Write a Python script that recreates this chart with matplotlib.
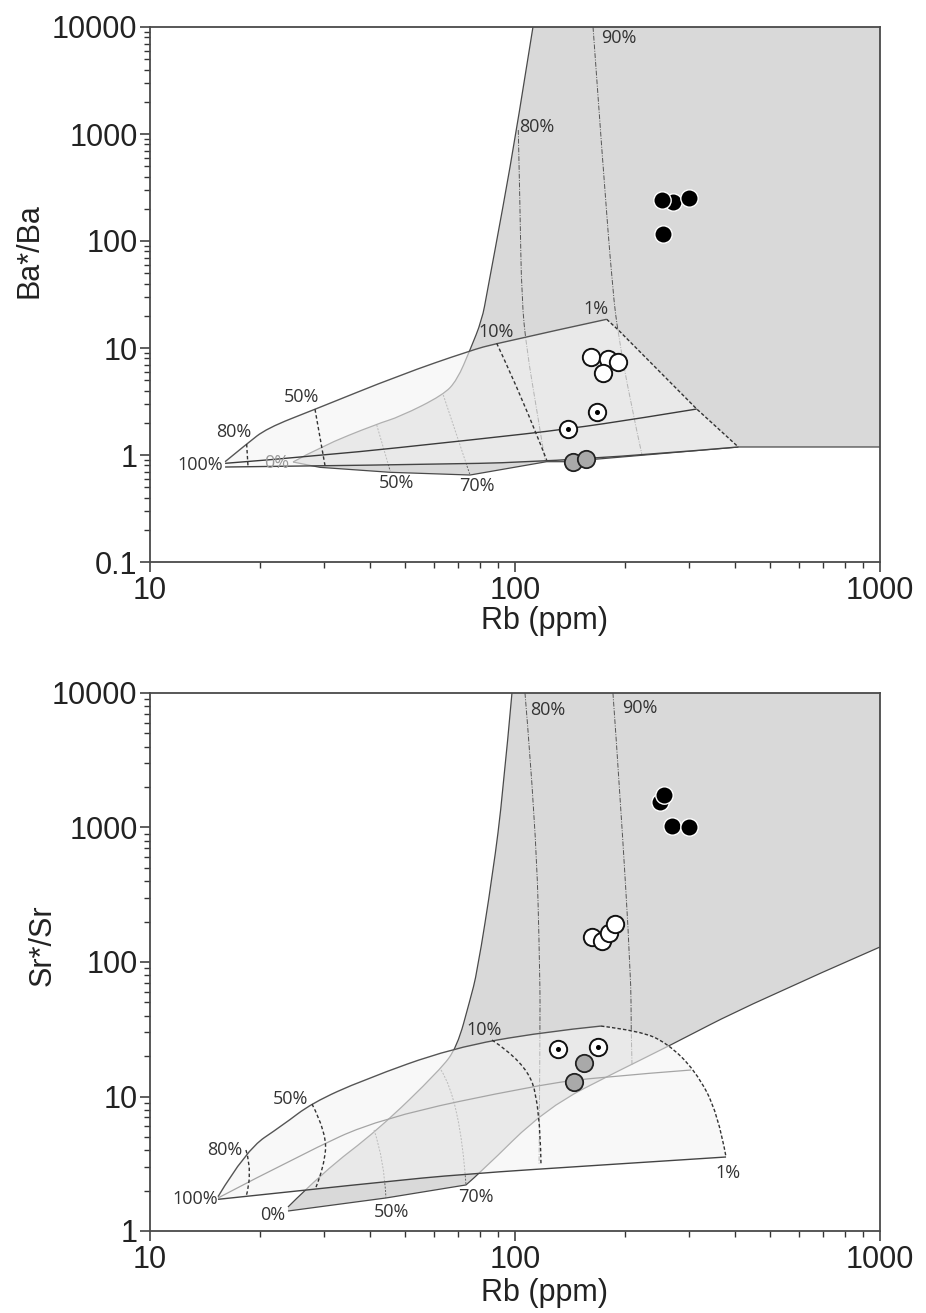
"""
Rb vs Ba*/Ba and Sr*/Sr fractionation model diagrams (two stacked log-log panels).
"""
import numpy as np
import matplotlib
matplotlib.use("Agg")
import matplotlib.pyplot as plt
from matplotlib.path import Path
from matplotlib.patches import PathPatch
from matplotlib.ticker import FixedLocator, FixedFormatter, LogLocator, NullFormatter

DARK_FILL = "#d9d9d9"
CONE_FILL = "#f4f4f4"
EDGE = "#4a4a4a"
INK = "#333333"
TICK_FONT = "Liberation Sans"
NOTE_FONT = "Open Sans"

# ---------------- Ba*/Ba panel (top) ----------------
BA_CONE_UPPER_RB = [16.06, 18.40, 20.88, 28.32, 48.4, 75.3, 89.1, 178.3]
BA_CONE_UPPER = [0.866, 1.267, 1.776, 2.674, 5.59, 9.44, 11.07, 18.55]
BA_CONE_1PCT_RB = [178.3, 191.9, 314.7, 409.1]
BA_CONE_1PCT = [18.55, 14.73, 2.69, 1.188]
BA_CONE_LOWER_RB = [409.1, 138.8, 45.5, 16.06]
BA_CONE_LOWER = [1.188, 0.866, 0.806, 0.772]
BA_MIDDLE_RB = [16.06, 29.2, 80.2, 139.7, 220.0, 314.7]
BA_MIDDLE = [0.836, 0.979, 1.411, 1.750, 2.203, 2.69]

BA_FIELD_LEFT_RB = [24.65, 29.2, 41.8, 48.4, 63.6, 69.4, 75.3, 81.2, 83.8, 92.7, 101.3, 112.0]
BA_FIELD_LEFT = [0.860, 1.188, 1.949, 2.280, 3.64, 5.02, 9.58, 18.27, 32.7, 207.9, 1163, 10000]
BA_FIELD_BASE_RB = [1000, 409.1, 138.8, 122.1, 75.3, 45.5, 29.2, 24.65]
BA_FIELD_BASE = [1.188, 1.188, 0.866, 0.866, 0.650, 0.689, 0.767, 0.860]

BA_TICKS = [  # dashed fraction ticks of the cone
    ([18.40, 18.56], [1.267, 0.772]),
    ([28.32, 29.2, 30.2], [2.674, 1.483, 0.777]),
    ([89.1, 105.4, 122.1], [11.07, 3.27, 0.898]),
]
BA_ZERO_TICKS = [
    ([41.8, 45.5], [1.907, 0.709]),
    ([63.6, 75.3], [3.64, 0.650]),
]
BA_FIELD_LINES = [
    ([102.1, 103.2, 104.3, 107.7, 114.7, 120.8], [1090, 209.2, 28.1, 9.58, 2.634, 0.898]),
    ([163.6, 174.2, 185.5, 191.5, 206.6, 222.8], [10000, 491.6, 32.7, 13.81, 3.27, 1.0]),
]
BA_LABELS = [("100%", 13.71, 0.806), ("80%", 16.91, 1.651), ("50%", 26.04, 3.51),
             ("0%", 22.24, 0.836), ("50%", 47.4, 0.551), ("70%", 78.6, 0.513),
             ("10%", 88.7, 14.2), ("1%", 166.4, 23.0), ("80%", 114.7, 1170),
             ("90%", 191.9, 7840)]

BA_BLACK_RB = [271, 252, 300, 255]
BA_BLACK = [231, 240, 250, 117]
BA_WHITE_RB = [162, 180, 191, 174]
BA_WHITE = [8.3, 7.9, 7.45, 5.9]
BA_DOT_RB = [140, 167.5]
BA_DOT = [1.75, 2.5]
BA_GRAY_RB = [144, 156.5]
BA_GRAY = [0.855, 0.92]

# ---------------- Sr*/Sr panel (bottom) ----------------
SR_CONE_UPPER_RB = [15.36, 18.32, 23.14, 27.78, 38.33, 67.2, 119.3, 172.0]
SR_CONE_UPPER = [1.80, 4.00, 6.14, 8.95, 13.27, 22.94, 30.2, 33.4]
SR_CONE_ARC_RB = [172.0, 220, 260.9, 311.2, 359.9, 378.6]
SR_CONE_ARC = [33.4, 30.7, 25.0, 15.74, 7.54, 3.55]
SR_CONE_LOWER_RB = [378.6, 171.0, 72.5, 42.7, 15.36]
SR_CONE_LOWER = [3.55, 3.09, 2.65, 2.31, 1.72]
SR_MIDDLE_RB = [15.36, 25.76, 42.7, 115.6, 171.0, 303.6]
SR_MIDDLE = [1.76, 3.67, 6.92, 12.18, 13.96, 15.74]

SR_FIELD_LEFT_RB = [23.88, 29.79, 42.15, 62.3, 69.4, 75.3, 78.7, 87.0, 92.7, 98.1]
SR_FIELD_LEFT = [1.508, 2.746, 5.64, 15.74, 23.34, 52.2, 82.8, 459, 1805, 10000]
SR_FIELD_BASE_RB = [1000, 446, 260.9, 194.0, 121.6, 80.2, 73.4, 44.3, 23.88]
SR_FIELD_BASE = [129.3, 49.6, 23.34, 15.74, 8.21, 2.70, 2.20, 1.76, 1.408]

SR_TICKS = [
    ([18.32, 19.15, 18.32], [4.00, 2.70, 1.789]),
    ([27.78, 30.54, 29.97, 28.50], [8.80, 5.35, 2.99, 2.12]),
    ([86.5, 106.5, 117.1, 117.8], [26.3, 18.05, 8.65, 3.15]),
]
SR_ZERO_TICKS = [
    ([41.1, 43.8, 44.3], [5.64, 3.37, 1.76]),
    ([62.7, 70.7, 73.4], [15.74, 9.42, 2.20]),
]
SR_FIELD_LINES = [
    ([106.5, 114.2, 117.1, 117.1, 116.4], [10000, 1009, 77.3, 31.2, 3.15]),
    ([185.5, 194.0, 207.9, 207.9, 209.2], [10000, 1805, 77.3, 32.9, 17.15]),
]
SR_LABELS = [("100%", 13.28, 1.73), ("80%", 16.06, 4.00), ("50%", 24.19, 9.58),
             ("0%", 21.73, 1.315), ("50%", 46.0, 1.384), ("70%", 78.2, 1.789),
             ("10%", 82.2, 31.2), ("1%", 383.4, 2.70), ("80%", 123.1, 7473),
             ("90%", 220, 7727)]

SR_BLACK_RB = [250, 256, 269, 300]
SR_BLACK = [1547, 1744, 1026, 1009]
SR_WHITE_RB = [163, 173, 181, 188]
SR_WHITE = [154, 143, 165, 191]
SR_DOT_RB = [131.4, 169.1]
SR_DOT = [22.6, 23.5]
SR_GRAY_RB = [154.9, 145.1]
SR_GRAY = [17.7, 12.8]

X_TICKS = [10, 100, 1000]
BA_Y_TICKS = [0.1, 1, 10, 100, 1000, 10000]
SR_Y_TICKS = [1, 10, 100, 1000, 10000]


def build_path(pieces, close=False):
    """pieces: list of (xs, ys, smooth). Smooth pieces become quadratic
    bezier runs (control points = read points, knots at log-midpoints)."""
    verts, codes = [], []
    for xs, ys, smooth in pieces:
        pts = list(zip(xs, ys))
        verts.append(pts[0])
        codes.append(Path.MOVETO if not codes else Path.LINETO)
        n = len(pts)
        if not smooth or n < 3:
            for p in pts[1:]:
                verts.append(p)
                codes.append(Path.LINETO)
            continue
        for i in range(1, n - 2):
            mid = (np.sqrt(pts[i][0] * pts[i + 1][0]), np.sqrt(pts[i][1] * pts[i + 1][1]))
            verts += [pts[i], mid]
            codes += [Path.CURVE3, Path.CURVE3]
        verts += [pts[n - 2], pts[n - 1]]
        codes += [Path.CURVE3, Path.CURVE3]
    if close:
        verts.append(verts[0])
        codes.append(Path.CLOSEPOLY)
    return Path(verts, codes)


def stroke(ax, pieces, z, **kw):
    ax.add_patch(PathPatch(build_path(pieces), fill=False, zorder=z, **kw))


def style_axes(ax, yticks, ylabel, ylim, ylab_xy, xlab_xy):
    ax.set_xscale("log")
    ax.set_yscale("log")
    ax.set_xlim(10, 1000)
    ax.set_ylim(*ylim)
    for sp in ax.spines.values():
        sp.set_color(EDGE)
        sp.set_linewidth(1.3)
    ax.xaxis.set_major_locator(FixedLocator(X_TICKS))
    ax.xaxis.set_major_formatter(FixedFormatter([str(t) for t in X_TICKS]))
    ax.yaxis.set_major_locator(FixedLocator(yticks))
    ax.yaxis.set_major_formatter(FixedFormatter([("%g" % t) for t in yticks]))
    for axis in (ax.xaxis, ax.yaxis):
        axis.set_minor_locator(LogLocator(base=10, subs=range(2, 10), numticks=20))
        axis.set_minor_formatter(NullFormatter())
    ax.tick_params(which="major", direction="out", length=7, width=1.1, color=INK,
                   labelsize=22, labelcolor="#222222", pad=2)
    ax.tick_params(which="minor", direction="out", length=4, width=1.0, color=INK)
    ax.tick_params(axis="x", which="major", pad=3)
    for lab in ax.get_xticklabels() + ax.get_yticklabels():
        lab.set_family(TICK_FONT)
    ax.set_xlabel("Rb (ppm)", fontsize=22, family=TICK_FONT, color="#222222")
    ax.set_ylabel(ylabel, fontsize=22, family=TICK_FONT, color="#222222")
    ax.xaxis.set_label_coords(*xlab_xy)
    ax.yaxis.set_label_coords(*ylab_xy)


def draw_model(ax, left, base, base_smooth_n, upper, right, right_smooth, lower,
               middle, middle_above, ticks, zero_ticks, field_lines, labels, zero_gray):
    # gray field
    base_pieces = []
    if base_smooth_n:
        base_pieces.append((base[0][:base_smooth_n], base[1][:base_smooth_n], True))
        base_pieces.append((base[0][base_smooth_n - 1:], base[1][base_smooth_n - 1:], False))
    else:
        base_pieces.append((base[0], base[1], False))
    field = [(left[0], left[1], True), ([1000], [10000], False)] + base_pieces
    ax.add_patch(PathPatch(build_path(field, close=True), facecolor=DARK_FILL,
                           edgecolor="none", zorder=1))
    stroke(ax, [(left[0], left[1], True)], 2, edgecolor=EDGE, lw=0.9)
    stroke(ax, base_pieces, 2, edgecolor=EDGE, lw=0.9)
    for xs, ys in field_lines:
        stroke(ax, [(xs, ys, True)], 2, edgecolor="#555555", lw=0.7,
               linestyle=(0, (5, 1.5, 1, 1.5)))
    for xs, ys in zero_ticks:
        stroke(ax, [(xs, ys, True)], 2, edgecolor="#666666", lw=0.7,
               linestyle=(0, (2, 1.5)))

    # translucent cone
    cone = [(upper[0], upper[1], True), (right[0], right[1], right_smooth),
            (lower[0], lower[1], True)]
    ax.add_patch(PathPatch(build_path(cone, close=True), facecolor=CONE_FILL,
                           edgecolor="none", alpha=0.6, zorder=3))
    if not middle_above:
        stroke(ax, [(middle[0], middle[1], True)], 3.5, edgecolor="#a5a5a5", lw=0.9)
    stroke(ax, [(upper[0], upper[1], True)], 4, edgecolor="#555555", lw=1.0)
    stroke(ax, [(right[0], right[1], right_smooth)], 4, edgecolor="#333333", lw=1.0,
           linestyle=(0, (2.5, 1.5)))
    stroke(ax, [(lower[0], lower[1], True)], 4, edgecolor="#444444", lw=1.0)
    if middle_above:
        stroke(ax, [(middle[0], middle[1], True)], 4, edgecolor="#3a3a3a", lw=1.0)
    for xs, ys in ticks:
        stroke(ax, [(xs, ys, True)], 4, edgecolor="#333333", lw=1.0,
               linestyle=(0, (2.5, 1.8)))

    for s, x, y in labels:
        col = "#9a9a9a" if (zero_gray and s == "0%") else INK
        ax.text(x, y, s, fontsize=13, family=NOTE_FONT, color=col,
                ha="center", va="center", zorder=5)


def draw_points(ax, black, white, dot, gray):
    ax.plot(black[0], black[1], "o", ms=12.5, mfc="black", mec="white", mew=1.0,
            ls="none", zorder=6)
    ax.plot(white[0], white[1], "o", ms=12.5, mfc="white", mec="#111111", mew=1.4,
            ls="none", zorder=6)
    ax.plot(gray[0], gray[1], "o", ms=12.5, mfc="#a9a9a9", mec="#222222", mew=1.3,
            ls="none", zorder=6)
    ax.plot(dot[0], dot[1], "o", ms=12.5, mfc="white", mec="#111111", mew=1.4,
            ls="none", zorder=6)
    ax.plot(dot[0], dot[1], "o", ms=2.6, mfc="black", mec="black", ls="none", zorder=7)


fig = plt.figure(figsize=(9.26, 13.13), dpi=100)
fig.patch.set_facecolor("white")

ax1 = fig.add_axes([150 / 926, 1 - 562 / 1313, 730 / 926, 535 / 1313])
draw_model(ax1, (BA_FIELD_LEFT_RB, BA_FIELD_LEFT), (BA_FIELD_BASE_RB, BA_FIELD_BASE), 0,
           (BA_CONE_UPPER_RB, BA_CONE_UPPER), (BA_CONE_1PCT_RB, BA_CONE_1PCT), False,
           (BA_CONE_LOWER_RB, BA_CONE_LOWER), (BA_MIDDLE_RB, BA_MIDDLE), True,
           BA_TICKS, BA_ZERO_TICKS, BA_FIELD_LINES, BA_LABELS, True)
draw_points(ax1, (BA_BLACK_RB, BA_BLACK), (BA_WHITE_RB, BA_WHITE),
            (BA_DOT_RB, BA_DOT), (BA_GRAY_RB, BA_GRAY))
style_axes(ax1, BA_Y_TICKS, "Ba*/Ba", (0.1, 10000), (-0.145, 0.583), (0.541, -0.082))

ax2 = fig.add_axes([150 / 926, 1 - 1231 / 1313, 730 / 926, 538 / 1313])
draw_model(ax2, (SR_FIELD_LEFT_RB, SR_FIELD_LEFT), (SR_FIELD_BASE_RB, SR_FIELD_BASE), 7,
           (SR_CONE_UPPER_RB, SR_CONE_UPPER), (SR_CONE_ARC_RB, SR_CONE_ARC), True,
           (SR_CONE_LOWER_RB, SR_CONE_LOWER), (SR_MIDDLE_RB, SR_MIDDLE), False,
           SR_TICKS, SR_ZERO_TICKS, SR_FIELD_LINES, SR_LABELS, False)
draw_points(ax2, (SR_BLACK_RB, SR_BLACK), (SR_WHITE_RB, SR_WHITE),
            (SR_DOT_RB, SR_DOT), (SR_GRAY_RB, SR_GRAY))
style_axes(ax2, SR_Y_TICKS, "Sr*/Sr", (1, 10000), (-0.126, 0.532), (0.541, -0.088))

fig.savefig("out.png", dpi=100, facecolor="white")
